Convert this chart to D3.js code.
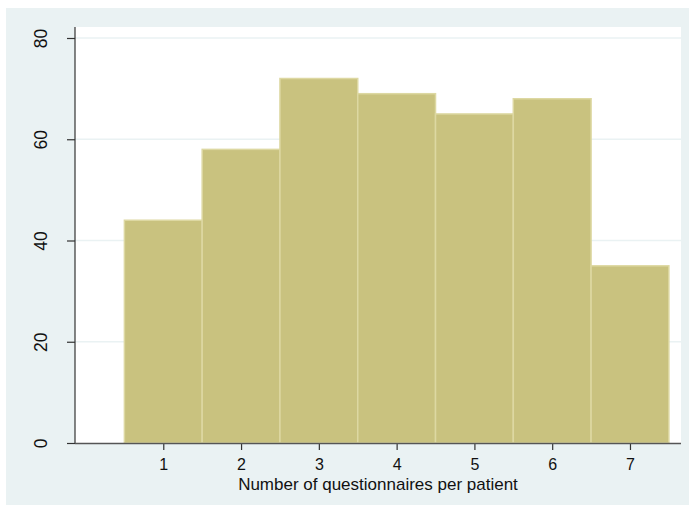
<!DOCTYPE html>
<meta charset="utf-8">
<script src="https://d3js.org/d3.v7.min.js"></script>
<style>
body { margin: 0; background: #fff; }
text { font-family: "Liberation Sans", Arial, sans-serif; fill: #111; }
.grade line { stroke: #eaf2f3; stroke-width: 1.5; }
.barra { fill: #c9c27f; stroke: #ddd8a2; stroke-width: 1.5; }
</style>
<body>
<div id="canvas"></div>
<script>
// dados do histograma
var categorias = [1, 2, 3, 4, 5, 6, 7];
var contagens = [44, 58, 72, 69, 65, 68, 35];
var ticksY = [0, 20, 40, 60, 80];
var tituloX = "Number of questionnaires per patient";

var width = 689, height = 506;

var svg = d3.select("#canvas").append("svg")
    .attr("width", width)
    .attr("height", height);

// fundo externo
svg.append("rect")
    .attr("x", 6).attr("y", 8)
    .attr("width", width - 6).attr("height", 497)
    .style("fill", "#eaf2f3");

// regiao do grafico
var plot = {left: 75, right: 681, top: 27, bottom: 443};
svg.append("rect")
    .attr("x", plot.left).attr("y", plot.top)
    .attr("width", plot.right - plot.left)
    .attr("height", plot.bottom - plot.top)
    .style("fill", "#fff");

// escalas
var x = d3.scaleLinear()
    .domain([-0.135, 7.656])
    .range([plot.left, plot.right]);
var y = d3.scaleLinear()
    .domain([0, 80])
    .range([plot.bottom, 38]);

// linhas de grade
svg.append("g").attr("class", "grade")
    .selectAll("line")
    .data(ticksY.filter(function(d) { return d > 0; }))
    .enter().append("line")
    .attr("x1", plot.left).attr("x2", plot.right)
    .attr("y1", function(d) { return y(d); })
    .attr("y2", function(d) { return y(d); });

// barras
svg.selectAll(".barra")
    .data(categorias)
    .enter().append("rect")
    .attr("class", "barra")
    .attr("x", function(d) { return x(d - 0.5); })
    .attr("width", function(d) { return x(d + 0.5) - x(d - 0.5); })
    .attr("y", function(d, i) { return y(contagens[i]); })
    .attr("height", function(d, i) { return y(0) - y(contagens[i]); });

// eixo Y
var yAxis = d3.axisLeft(y).tickValues(ticksY).tickSize(8).tickPadding(0).tickFormat(d3.format("d"));
var gy = svg.append("g")
    .attr("transform", "translate(" + plot.left + ",0)")
    .call(yAxis);
gy.select(".domain").remove();
gy.append("line")
    .attr("x1", 0).attr("x2", 0)
    .attr("y1", plot.top).attr("y2", plot.bottom)
    .style("stroke", "#333").style("stroke-width", 1.2);
gy.selectAll(".tick line").style("stroke", "#333").style("stroke-width", 1.2);
gy.selectAll(".tick text")
    .style("font-size", "17.5px")
    .style("fill", "#111")
    .attr("x", null).attr("dy", null)
    .attr("text-anchor", "middle")
    .attr("transform", "translate(-32,0) rotate(-90)")
    .attr("y", 4);

// eixo X
var xAxis = d3.axisBottom(x).tickValues(categorias).tickSize(7);
var gx = svg.append("g")
    .attr("transform", "translate(0," + plot.bottom + ")")
    .call(xAxis);
gx.select(".domain").remove();
gx.append("line")
    .attr("x1", plot.left).attr("x2", plot.right)
    .attr("y1", 0.5).attr("y2", 0.5)
    .style("stroke", "#555").style("stroke-width", 1.6);
gx.selectAll(".tick line").style("stroke", "#333").style("stroke-width", 1.2);
gx.selectAll(".tick text")
    .style("font-size", "16px")
    .style("fill", "#111")
    .attr("y", 26.5).attr("dy", null);

// titulo do eixo X
svg.append("text")
    .attr("x", (plot.left + plot.right) / 2)
    .attr("y", 489.5)
    .attr("text-anchor", "middle")
    .style("font-size", "17px")
    .text(tituloX);
</script>
</body>
